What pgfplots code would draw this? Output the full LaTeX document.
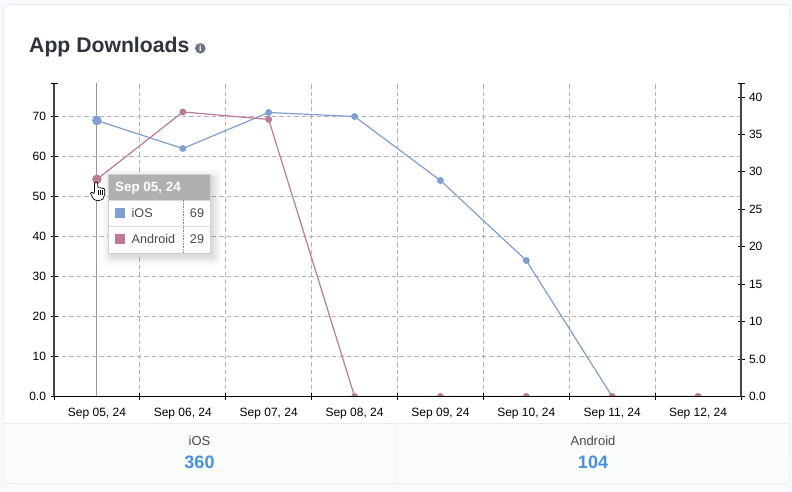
\documentclass[border=0pt]{standalone}
\usepackage{pgfplots}
\pgfplotsset{compat=1.18}
\usepackage{fontspec}
\setmainfont{Liberation Sans}
\newcommand{\fs}[1]{\fontsize{#1}{#1}\selectfont}
\definecolor{iosc}{HTML}{7F9FD3}
\definecolor{andc}{HTML}{BC7A98}
\definecolor{gridc}{HTML}{B2B2B2}
\definecolor{axc}{HTML}{444444}
\definecolor{titlec}{HTML}{2F3340}
\definecolor{numc}{HTML}{4A90E2}
\definecolor{bgc}{HTML}{F8F9FC}
\definecolor{edgec}{HTML}{E6EBF0}
\definecolor{panelc}{HTML}{FAFDF9}
\definecolor{panelline}{HTML}{EDF2EE}
\definecolor{txtc}{HTML}{45484F}
\definecolor{infoc}{HTML}{6B7480}
\pgfplotstableread{
x ios
0 69
1 62
2 71
3 70
4 54
5 34
6 0
7 0
}\iosdata
\pgfplotstableread{
x android
0 29
1 38
2 37
3 0
4 0
5 0
6 0
7 0
}\anddata
\pgfplotsset{
  base/.style={
    scale only axis, width=687pt, height=313pt,
    at={(54pt,94.5pt)}, anchor=south west,
    xmin=-0.5, xmax=7.5,
    clip marker paths=true,
    tick align=outside,
    major tick length=7pt,
    tick style={black, line width=0.9pt},
    ticklabel style={font=\fs{12}, text=black},
  }
}
\begin{document}
\begin{tikzpicture}
\fill[bgc] (0pt,0pt) rectangle (792pt,491pt);
\begin{scope}[x=1pt,y=1pt]
\useasboundingbox (0,0) rectangle (792,491);
\filldraw[fill=white,draw=edgec,line width=0.8pt,rounded corners=5pt] (3.8,7.5) rectangle (789.8,486.5);
\fill[panelc,rounded corners=5pt] (4.2,7.9) rectangle (789.4,40);
\fill[panelc] (4.2,30) rectangle (789.4,68);
\draw[edgec,line width=0.8pt] (3.8,68) -- (789.8,68);
\draw[panelline,line width=0.8pt] (396.5,68) -- (396.5,7.9);
\node[anchor=base west,inner sep=0,text=titlec,font=\fs{21.2}\bfseries] at (29,438) {App Downloads};
\fill[infoc] (200.3,442.7) circle (5.3pt);
\node[text=white,font=\fs{9}\bfseries,inner sep=0] at (200.3,442.7) {i};
\node[anchor=base,inner sep=0,text=txtc,font=\fs{13}] at (199.5,45.5) {iOS};
\node[anchor=base,inner sep=0,text=numc,font=\fs{18}\bfseries] at (199.5,22.5) {360};
\node[anchor=base,inner sep=0,text=txtc,font=\fs{13}] at (593,45.5) {Android};
\node[anchor=base,inner sep=0,text=numc,font=\fs{18}\bfseries] at (593,22.5) {104};
\draw[black!40,line width=0.9pt] (96.6,94.5) -- (96.6,407.5);
\end{scope}
% left axis with iOS
\begin{axis}[base,
  ymin=0, ymax=78.25,
  axis x line=bottom, axis y line=left,
  axis line style={-},
  x axis line style={black,line width=1pt},
  y axis line style={axc,line width=1.1pt},
  xtick={-0.5,0.5,...,7.5}, xticklabels={},
  extra x ticks={0,1,2,3,4,5,6,7},
  extra x tick labels={{Sep 05, 24},{Sep 06, 24},{Sep 07, 24},{Sep 08, 24},{Sep 09, 24},{Sep 10, 24},{Sep 11, 24},{Sep 12, 24}},
  extra x tick style={major tick length=0pt, xmajorgrids=false, xticklabel style={yshift=-8pt}},
  ytick={0,10,...,70}, yticklabels={0.0,10,20,30,40,50,60,70},
  extra y ticks={78.25}, extra y tick labels={{}},
  extra y tick style={ymajorgrids=false},
  xmajorgrids, ymajorgrids,
  major grid style={gridc,line width=0.9pt,dash pattern=on 4.5pt off 3pt},
  yticklabel style={xshift=-1pt},
]
\addplot[iosc,line width=1.2pt,mark=*,mark size=2.8pt,mark options={solid,fill=iosc,draw=iosc}] table[x=x,y=ios] {\iosdata};
\addplot[only marks,mark=*,mark size=4.5pt,mark options={fill=iosc,draw=iosc}] coordinates {(0,69)};
\end{axis}
% right axis with Android; the axis lines lie over the series
\begin{axis}[base,
  axis on top,
  ymin=0, ymax=41.8,
  axis x line=bottom, axis y line=right,
  axis line style={-},
  x axis line style={black,line width=1pt},
  y axis line style={axc,line width=1.1pt},
  xtick=\empty,
  ytick={0,5,...,40}, yticklabels={0.0,5.0,10,15,20,25,30,35,40},
  extra y ticks={41.8}, extra y tick labels={{}},
  yticklabel style={xshift=1pt},
]
\addplot[andc,line width=1.2pt,mark=*,mark size=2.8pt,mark options={solid,fill=andc,draw=andc}] table[x=x,y=android] {\anddata};
\addplot[only marks,mark=*,mark size=4.5pt,mark options={fill=andc,draw=andc}] coordinates {(0,29)};
\end{axis}
% tooltip
\begin{scope}[x=1pt,y=1pt]
\foreach \e/\o in {10/0.006,9/0.007,8/0.008,7/0.009,6/0.01,5/0.012,4/0.013,3/0.015,2/0.016,1/0.018,0/0.02}{
  \fill[black,opacity=\o,rounded corners=\e pt] (111-\e,234-\e) rectangle (213+\e,313+\e);
}
\fill[white] (108.5,238) rectangle (210.5,317);
\fill[black!31] (108.5,291) rectangle (210.5,317);
\draw[black!15,line width=0.8pt] (108.5,264.5) -- (210.5,264.5);
\draw[black!15,line width=0.8pt] (108.5,291) -- (210.5,291);
\draw[black!45,line width=0.6pt,dash pattern=on 0.8pt off 0.8pt] (183.5,238) -- (183.5,291);
\draw[black!19,line width=1pt] (108.5,238) rectangle (210.5,317);
\node[anchor=base west,inner sep=0,text=white,font=\fs{13.4}\bfseries] at (115,299.5) {Sep 05, 24};
\fill[iosc] (115,273) rectangle (125,283);
\fill[andc] (115,247) rectangle (125,257);
\node[anchor=base west,inner sep=0,text=txtc,font=\fs{12.6}] at (131.5,273.5) {iOS};
\node[anchor=base west,inner sep=0,text=txtc,font=\fs{12.6}] at (131.5,247.5) {Android};
\node[anchor=base,inner sep=0,text=txtc,font=\fs{12.6}] at (197,273.5) {69};
\node[anchor=base,inner sep=0,text=txtc,font=\fs{12.6}] at (197,247.5) {29};
% hand cursor
\filldraw[fill=white,draw=black,line width=0.7pt,line join=round]
 (94.5,307.5) .. controls (94.5,299) and (94.5,299) .. (94,297.5)
 -- (91.5,298.8) -- (90.5,297.5) -- (93.5,292) .. controls (96,290) and (100,290) .. (103,292)
 .. controls (105,295) and (105,298) .. (104.5,302)
 -- (103,302.5) -- (102,303) -- (100,303) -- (98,303.5) -- (97.5,308) .. controls (97,309.5) and (95,309.5) .. (94.5,307.5) -- cycle;
\draw[black,line width=0.5pt] (98.5,296) -- (98.5,301) (100.5,296) -- (100.5,301) (102.5,296) -- (102.5,301);
\end{scope}
\end{tikzpicture}
\end{document}
